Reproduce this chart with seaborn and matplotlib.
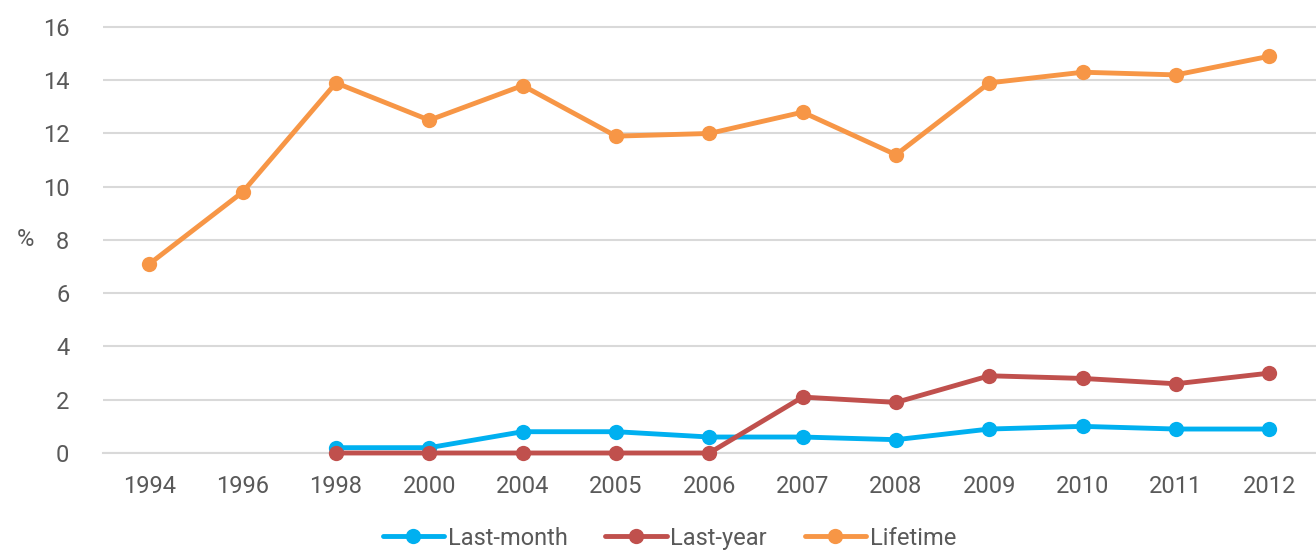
import numpy as np
import pandas as pd
import matplotlib
matplotlib.use("Agg")
import matplotlib.pyplot as plt
import seaborn as sns
from matplotlib.ticker import FixedLocator

years = ["1994", "1996", "1998", "2000", "2004", "2005", "2006",
         "2007", "2008", "2009", "2010", "2011", "2012"]
last_month = [np.nan, np.nan, 0.2, 0.2, 0.8, 0.8, 0.6, 0.6, 0.5, 0.9, 1.0, 0.9, 0.9]
last_year = [np.nan, np.nan, 0.0, 0.0, 0.0, 0.0, 0.0, 2.1, 1.9, 2.9, 2.8, 2.6, 3.0]
lifetime = [7.1, 9.8, 13.9, 12.5, 13.8, 11.9, 12.0, 12.8, 11.2, 13.9, 14.3, 14.2, 14.9]
series_names = ["Last-month", "Last-year", "Lifetime"]
colors = ["#00B0F0", "#C0504D", "#F79646"]

frames = []
for name, vals in zip(series_names, [last_month, last_year, lifetime]):
    frames.append(pd.DataFrame({"pos": np.arange(len(years)), "year": years,
                                "value": vals, "series": name}))
df = pd.concat(frames, ignore_index=True).dropna()

sns.set_style("white")
plt.rcParams["font.family"] = ["Roboto", "DejaVu Sans"]
text_color = "#595959"
grid_color = "#D9D9D9"
fs = 17

fig = plt.figure(figsize=(13.16, 5.53), dpi=100)
ax = fig.add_axes([0.078, 100 / 553, 1 - 0.078, 428.7 / 553])

sns.lineplot(data=df, x="pos", y="value", hue="series", hue_order=series_names,
             palette=colors, marker="o", markersize=11, markeredgewidth=0,
             linewidth=3.5, ax=ax, legend=True)
for i, line in enumerate(ax.lines):
    line.set_clip_on(False)
    line.set_zorder(3 + i * 0.1)

ax.set_xlim(-0.5, len(years) - 0.5)
ax.set_ylim(0, 16.1)
ax.set_yticks(np.arange(0, 17, 2))
ax.set_xticks(np.arange(len(years)))
ax.set_xticklabels(years)
ax.xaxis.set_minor_locator(FixedLocator(np.arange(-0.5, len(years), 1.0)))
ax.tick_params(axis="x", which="major", length=0, pad=16, labelsize=fs, labelcolor=text_color)
ax.tick_params(axis="x", which="minor", length=8, width=1.2, color=grid_color, direction="out")
ax.tick_params(axis="y", length=0, pad=24, labelsize=fs, labelcolor=text_color)

ax.grid(axis="y", color=grid_color, linewidth=1.5)
ax.set_axisbelow(True)
for side in ["top", "right", "left"]:
    ax.spines[side].set_visible(False)
ax.spines["bottom"].set_color(grid_color)
ax.spines["bottom"].set_linewidth(1.5)
ax.spines["bottom"].set_zorder(1)

ax.set_xlabel("")
ax.set_ylabel("%", rotation=0, fontsize=fs, color=text_color, va="center", ha="center")
ax.yaxis.set_label_coords(-0.064, 8 / 16.1)

handles, labels = ax.get_legend_handles_labels()
leg = ax.legend(handles, labels, loc="upper center", bbox_to_anchor=(0.467, -0.122),
                ncol=3, frameon=False, fontsize=fs, handlelength=2.6,
                handletextpad=0.15, columnspacing=1.6)
for t in leg.get_texts():
    t.set_color(text_color)

fig.savefig("out.png", dpi=100)
